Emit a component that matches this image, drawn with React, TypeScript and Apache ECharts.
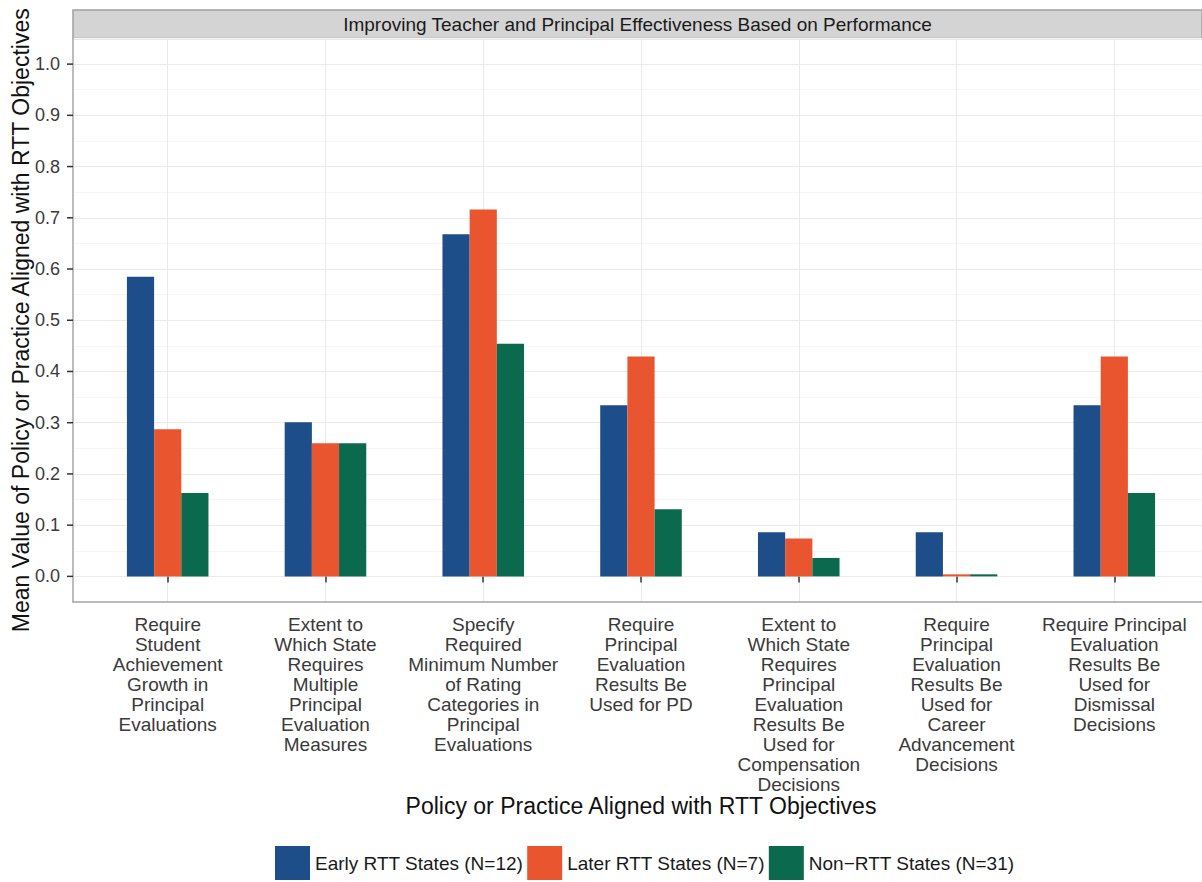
import React, { useEffect, useRef } from "react";
import * as echarts from "echarts";

const stripTitle = "Improving Teacher and Principal Effectiveness Based on Performance";
const xTitle = "Policy or Practice Aligned with RTT Objectives";
const yTitle = "Mean Value of Policy or Practice Aligned with RTT Objectives";

const categories = [
  "Require\nStudent\nAchievement\nGrowth in\nPrincipal\nEvaluations",
  "Extent to\nWhich State\nRequires\nMultiple\nPrincipal\nEvaluation\nMeasures",
  "Specify\nRequired\nMinimum Number\nof Rating\nCategories in\nPrincipal\nEvaluations",
  "Require\nPrincipal\nEvaluation\nResults Be\nUsed for PD",
  "Extent to\nWhich State\nRequires\nPrincipal\nEvaluation\nResults Be\nUsed for\nCompensation\nDecisions",
  "Require\nPrincipal\nEvaluation\nResults Be\nUsed for\nCareer\nAdvancement\nDecisions",
  "Require Principal\nEvaluation\nResults Be\nUsed for\nDismissal\nDecisions",
];

const seriesNames = [
  "Early RTT States (N=12)",
  "Later RTT States (N=7)",
  "Non\u2212RTT States (N=31)",
];

const earlyValues = [0.585, 0.301, 0.668, 0.334, 0.086, 0.086, 0.334];
const laterValues = [0.287, 0.26, 0.716, 0.429, 0.074, 0.004, 0.429];
const nonValues = [0.163, 0.26, 0.454, 0.131, 0.036, 0.004, 0.163];

const yTickLabels = [0, 0.1, 0.2, 0.3, 0.4, 0.5, 0.6, 0.7, 0.8, 0.9, 1.0];

const colors = ["#1d4e8a", "#e9552f", "#0b6a4e"];

const FONT = "'Liberation Sans', Arial, Helvetica, sans-serif";

export default function App() {
  const ref = useRef<HTMLDivElement>(null);

  useEffect(() => {
    if (!ref.current) return;
    const chart = echarts.init(ref.current, undefined, { renderer: "svg" });
    const valuesList = [earlyValues, laterValues, nonValues];

    const option: any = {
      animation: false,
      backgroundColor: "#ffffff",
      textStyle: { fontFamily: FONT },
      grid: [
        { left: 73, right: 0, top: 38.5, height: 563.5, containLabel: false, outerBoundsMode: "none" },
        {
          left: 167.7,
          right: 1202 - 1114.3,
          top: 38.5,
          height: 563.5,
          containLabel: false,
          outerBoundsMode: "none",
        },
      ],
      xAxis: [
        {
          type: "value",
          gridIndex: 0,
          min: 0,
          max: 1,
          axisLabel: { show: false },
          axisTick: { show: false },
          splitLine: { show: false },
          axisLine: { show: true, onZero: false, lineStyle: { color: "#a6a6a6", width: 1.5 } },
        },
        {
          type: "category",
          gridIndex: 1,
          data: categories,
          boundaryGap: false,
          axisLine: { show: false },
          axisTick: { show: true, length: 6, lineStyle: { color: "#333333", width: 1.5 } },
          axisLabel: {
            interval: 0,
            margin: 12,
            fontSize: 19,
            lineHeight: 20,
            color: "#3a3a3a",
            fontFamily: FONT,
          },
          splitLine: { show: true, lineStyle: { color: "#ebebeb", width: 1 } },
          name: xTitle,
          nameLocation: "middle",
          nameGap: 192,
          nameMoveOverlap: false,
          nameTextStyle: { fontSize: 23, color: "#111111", fontFamily: FONT },
        },
      ],
      yAxis: [
        {
          type: "value",
          gridIndex: 0,
          min: -0.05,
          max: 1.05,
          interval: 0.05,
          axisLine: { show: true, onZero: false, lineStyle: { color: "#a6a6a6", width: 1.5 } },
          axisTick: { show: false },
          axisLabel: {
            margin: 13,
            fontSize: 18,
            color: "#3a3a3a",
            fontFamily: FONT,
            formatter: (v: number) => {
              const r = Math.round(v * 100);
              return r >= 0 && r % 10 === 0 ? (r / 100).toFixed(1) : "";
            },
          },
          splitLine: {
            show: true,
            lineStyle: { color: ["#f6f6f6", "#ebebeb"], width: 1 },
          },
          name: yTitle,
          nameLocation: "middle",
          nameRotate: 90,
          nameGap: 41,
          nameMoveOverlap: false,
          nameTextStyle: { fontSize: 23, color: "#111111", fontFamily: FONT },
        },
        {
          type: "value",
          gridIndex: 1,
          min: -0.05,
          max: 1.05,
          interval: 0.05,
          show: false,
          splitLine: { show: false },
        },
      ],
      legend: {
        data: seriesNames,
        left: 275,
        top: 846,
        padding: 0,
        itemWidth: 35,
        itemHeight: 34,
        itemGap: 4,
        icon: "rect",
        textStyle: { fontSize: 19, color: "#1a1a1a", fontFamily: FONT },
      },
      graphic: [
        {
          type: "rect",
          shape: { x: 73, y: 10, width: 1129, height: 28.5 },
          style: { fill: "#d4d4d4", stroke: "#a0a0a0", lineWidth: 1.5 },
        },
        {
          type: "text",
          x: 637.5,
          y: 24.5,
          style: {
            text: stripTitle,
            fontSize: 19,
            fill: "#1a1a1a",
            align: "center",
            verticalAlign: "middle",
            fontFamily: FONT,
          },
        },
      ],
      series: [
        ...seriesNames.map((name, i) => ({
          name,
          type: "bar",
          xAxisIndex: 1,
          yAxisIndex: 1,
          data: valuesList[i],
          barGap: "0%",
          barCategoryGap: "48.3%",
          clip: false,
          itemStyle: { color: colors[i] },
        })),
        {
          type: "custom",
          xAxisIndex: 0,
          yAxisIndex: 0,
          silent: true,
          data: yTickLabels.map((v) => [0, v]),
          renderItem: (params: any, api: any) => {
            const y = api.coord([0, api.value(1)])[1];
            const x0 = params.coordSys.x;
            return {
              type: "line",
              shape: { x1: x0 - 6, y1: y, x2: x0, y2: y },
              style: { stroke: "#333333", lineWidth: 1.5 },
            };
          },
        },
      ],
    };

    chart.setOption(option);
    return () => chart.dispose();
  }, []);

  return (
    <div
      ref={ref}
      style={{ position: "absolute", left: 0, top: 0, width: 1202, height: 882 }}
    />
  );
}
